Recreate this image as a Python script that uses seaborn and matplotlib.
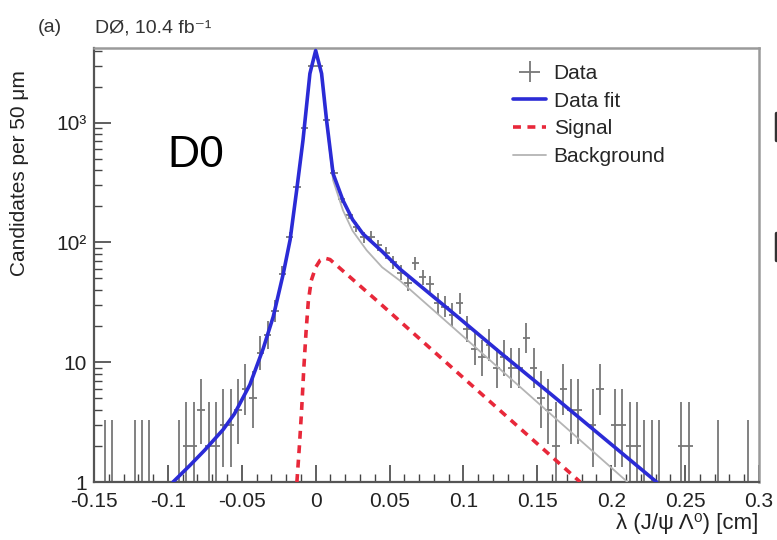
import numpy as np
import pandas as pd
import matplotlib
matplotlib.use("Agg")
import matplotlib.pyplot as plt
import matplotlib.ticker as mticker
from matplotlib.lines import Line2D
import seaborn as sns

# Histogram bin centres (50 um bins) and counts
bin_centers = [
    -0.1475, -0.1425, -0.1375, -0.1325, -0.1275, -0.1225, -0.1175, -0.1125, -0.1075, -0.1025,
    -0.0975, -0.0925, -0.0875, -0.0825, -0.0775, -0.0725, -0.0675, -0.0625, -0.0575, -0.0525,
    -0.0475, -0.0425, -0.0375, -0.0325, -0.0275, -0.0225, -0.0175, -0.0125, -0.0075, -0.0025,
    0.0025, 0.0075, 0.0125, 0.0175, 0.0225, 0.0275, 0.0325, 0.0375, 0.0425, 0.0475,
    0.0525, 0.0575, 0.0625, 0.0675, 0.0725, 0.0775, 0.0825, 0.0875, 0.0925, 0.0975,
    0.1025, 0.1075, 0.1125, 0.1175, 0.1225, 0.1275, 0.1325, 0.1375, 0.1425, 0.1475,
    0.1525, 0.1575, 0.1625, 0.1675, 0.1725, 0.1775, 0.1825, 0.1875, 0.1925, 0.1975,
    0.2025, 0.2075, 0.2125, 0.2175, 0.2225, 0.2275, 0.2325, 0.2375, 0.2425, 0.2475,
    0.2525, 0.2575, 0.2625, 0.2675, 0.2725, 0.2775, 0.2825, 0.2875, 0.2925, 0.2975,
]
counts = [
    0, 1, 1, 0, 0, 1, 1, 1, 0, 0,
    0, 1, 2, 2, 4, 2, 2, 3, 3, 4,
    6, 5, 12, 17, 27, 55, 110, 290, 900, 3000,
    3000, 1050, 380, 230, 170, 135, 110, 112, 95, 82,
    68, 56, 46, 67, 51, 45, 31, 29, 25, 31,
    19, 13, 11, 14, 9, 11, 9, 9, 16, 9,
    5, 4, 2, 6, 4, 4, 0, 3, 6, 0,
    3, 3, 2, 2, 1, 1, 1, 0, 0, 2,
    2, 0, 0, 0, 1, 0, 0, 0, 1, 0,
]

# Fit curves, points
fit_x = [-0.0965, -0.085, -0.075, -0.0625, -0.055, -0.0445, -0.0355, -0.0287, -0.0219,
         -0.0173, -0.0129, -0.0086, -0.0039, 0.0, 0.004, 0.0074, 0.0118, 0.0185, 0.025,
         0.032, 0.045, 0.057, 0.091, 0.125, 0.1585, 0.2307]
fit_y = [1, 1.38, 1.85, 2.75, 3.7, 6.5, 13, 24, 55,
         105, 270, 710, 2570, 4000, 2570, 1040, 375, 224, 155,
         118, 84, 60, 27, 12, 5.5, 1]

bkg_x = [-0.0965, -0.085, -0.075, -0.0625, -0.055, -0.0445, -0.0355, -0.0287, -0.0219,
         -0.0173, -0.0129, -0.0086, -0.0039, 0.0, 0.004, 0.0074, 0.0118, 0.0185, 0.025,
         0.0345, 0.045, 0.057, 0.091, 0.125, 0.16, 0.211]
bkg_y = [1, 1.38, 1.85, 2.75, 3.7, 6.5, 13, 24, 55,
         104, 265, 700, 2520, 3950, 2500, 1000, 330, 185, 125,
         86, 62, 48, 20.5, 8.7, 3.6, 1]

sig_x = [-0.0127, -0.011, -0.0095, -0.008, -0.0065, -0.005, -0.003, 0.0, 0.003, 0.006,
         0.0097, 0.0435, 0.057, 0.111, 0.179]
sig_y = [1, 2, 4, 9, 18, 32, 48, 62, 71, 74, 72, 31, 22, 5.6, 1]

sns.set_theme(style="white")
plt.rcParams["font.family"] = ["Liberation Sans", "DejaVu Sans"]

fig = plt.figure(figsize=(7.77, 5.40), dpi=100)
ax = fig.add_axes([94 / 777, 1 - 482 / 540, (759 - 94) / 777, (482 - 48) / 540])

# data points with Poisson (Gehrels) error bars
data = pd.DataFrame({"x": bin_centers, "n": counts})
data = data[data["n"] > 0]
n = data["n"].to_numpy(dtype=float)
err_lo = np.sqrt(n - 0.25)
err_hi = np.sqrt(n + 0.75) + 1
ax.errorbar(data["x"], n, yerr=[err_lo, err_hi], xerr=0.0025, fmt="none",
            ecolor="#777777", elinewidth=1.3, capsize=0, label="Data", zorder=2)

curves = pd.concat([
    pd.DataFrame({"x": fit_x, "y": fit_y, "curve": "Data fit"}),
    pd.DataFrame({"x": sig_x, "y": sig_y, "curve": "Signal"}),
    pd.DataFrame({"x": bkg_x, "y": bkg_y, "curve": "Background"}),
])
sns.lineplot(data=curves[curves["curve"] == "Data fit"], x="x", y="y", ax=ax,
             color="#2b2bd6", lw=2.6, sort=False, estimator=None, label="Data fit", zorder=4)
sns.lineplot(data=curves[curves["curve"] == "Signal"], x="x", y="y", ax=ax,
             color="#e8283a", lw=2.6, sort=False, estimator=None, label="Signal", zorder=3)
ax.lines[-1].set_dashes([2.2, 1.8])
sns.lineplot(data=curves[curves["curve"] == "Background"], x="x", y="y", ax=ax,
             color="#b4b4b4", lw=1.3, sort=False, estimator=None, label="Background", zorder=3)

ax.set_yscale("log")
ax.set_xlim(-0.15, 0.3)
ax.set_ylim(1, 4200)
ax.set_xticks([-0.15, -0.1, -0.05, 0, 0.05, 0.1, 0.15, 0.2, 0.25, 0.3])
ax.set_xticklabels(["-0.15", "-0.1", "-0.05", "0", "0.05", "0.1", "0.15", "0.2", "0.25", "0.3"])
ax.xaxis.set_minor_locator(mticker.MultipleLocator(0.01))
ax.set_yticks([1, 10, 100, 1000])
ax.set_yticklabels(["1", "10", "10²", "10³"])
ax.yaxis.set_minor_locator(mticker.LogLocator(base=10, subs=np.arange(2, 10)))
ax.yaxis.set_minor_formatter(mticker.NullFormatter())
ax.tick_params(axis="both", which="both", direction="in", colors="#444444",
               labelcolor="#222222", labelsize=15, top=False, right=False,
               bottom=True, left=True)
ax.tick_params(axis="both", which="major", length=12, width=1.2)
ax.tick_params(axis="x", which="major", pad=7)
ax.tick_params(axis="y", which="major", pad=5)
ax.tick_params(axis="both", which="minor", length=6, width=1.0)
ax.set_xlabel("")
ax.set_ylabel("")
for side in ["left", "bottom"]:
    ax.spines[side].set_color("#555555")
    ax.spines[side].set_linewidth(1.6)
for side in ["top", "right"]:
    ax.spines[side].set_color("#9a9a9a")
    ax.spines[side].set_linewidth(1.8)

handles, labels = ax.get_legend_handles_labels()
order = [labels.index(k) for k in ["Data", "Data fit", "Signal", "Background"]]
ax.legend([handles[i] for i in order], [labels[i] for i in order],
          loc="upper left", bbox_to_anchor=(513 / 777, 1 - 64 / 540),
          bbox_transform=fig.transFigure, frameon=False, fontsize=15,
          handlelength=1.6, handletextpad=0.35, labelspacing=0.42, borderpad=0,
          borderaxespad=0)

fig.text(20 / 777, 1 - 173 / 540, "Candidates per 50 μm", rotation=90,
         ha="center", va="center", fontsize=15, color="#222222")
fig.text(758 / 777, 1 - 524 / 540, "λ (J/ψ Λ⁰) [cm]", ha="right", va="center",
         fontsize=16, color="#222222")
fig.text(38 / 777, 1 - 28 / 540, "(a)", ha="left", va="center", fontsize=14, color="#333333")
fig.text(95 / 777, 1 - 28 / 540, "DØ, 10.4 fb⁻¹", ha="left", va="center",
         fontsize=14, color="#333333")
fig.text(167 / 777, 1 - 167 / 540, "D0", ha="left", va="baseline", fontsize=32, color="black")

# bits of the neighbouring panel that show at the right edge
fig.add_artist(Line2D([776 / 777, 776 / 777], [1 - 113 / 540, 1 - 140 / 540],
                      color="#333333", lw=2.5))
fig.add_artist(Line2D([776 / 777, 776 / 777], [1 - 233 / 540, 1 - 260 / 540],
                      color="#333333", lw=2.5))

fig.savefig("out.png", dpi=100)
